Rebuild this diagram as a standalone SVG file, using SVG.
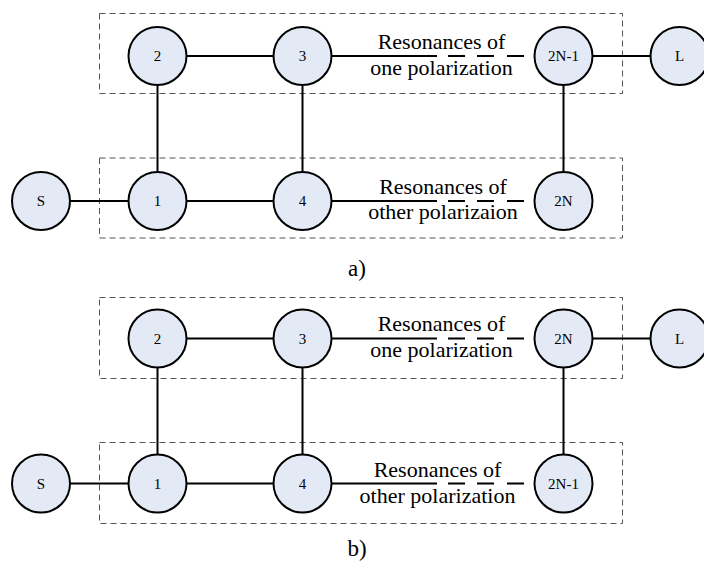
<svg xmlns="http://www.w3.org/2000/svg" width="704" height="565" viewBox="0 0 704 565">
<style>
.box{fill:none;stroke:#555;stroke-width:1;stroke-dasharray:6 4}
.node circle{fill:#e3eaf6;stroke:#000;stroke-width:2}
.node text{font-size:15px;text-anchor:middle;fill:#000}
.edge{stroke:#000;stroke-width:2;fill:none}
.lbl{font-size:22px;text-anchor:middle;fill:#000}
.cap{font-size:23px;text-anchor:middle;fill:#000}
</style>
<rect width="704" height="565" fill="#fff"/>
<g id="groups">
<rect class="box" x="99.5" y="13.5" width="523" height="80"/>
<rect class="box" x="99.5" y="158" width="523" height="80"/>
<rect class="box" x="99.5" y="297.5" width="523" height="81"/>
<rect class="box" x="99.5" y="442.5" width="523" height="81"/>
</g>
<g id="connectors">
<path class="edge" d="M186.5 56H273.5M157.5 85V172M302.5 85V172M592.5 56H650.5M563.5 85V172M70 201H128.5M186.5 201H273.5"/>
<path class="edge" d="M331.5 56H437M448 56H465M477 56H494M507 56H524"/>
<path class="edge" d="M331.5 201H437M448 201H465M477 201H494M507 201H524"/>
<path class="edge" d="M186.5 338.5H273.5M157.5 367.5V454.5M302.5 367.5V454.5M592.5 338.5H650.5M563.5 367.5V454.5M70 483.5H128.5M186.5 483.5H273.5"/>
<path class="edge" d="M331.5 338.5H437M448 338.5H465M477 338.5H494M507 338.5H524"/>
<path class="edge" d="M331.5 483.5H437M448 483.5H465M477 483.5H494M507 483.5H524"/>
</g>
<g id="labels" font-family="'Liberation Serif', 'Times New Roman', 'DejaVu Serif', serif">
<text class="lbl" x="441.5" y="49">Resonances of</text>
<text class="lbl" x="441.5" y="75">one polarization</text>
<text class="lbl" x="443" y="194">Resonances of</text>
<text class="lbl" x="443" y="219">other polarizaion</text>
<text class="cap" x="357" y="276">a)</text>
<text class="lbl" x="441.5" y="331">Resonances of</text>
<text class="lbl" x="441.5" y="357">one polarization</text>
<text class="lbl" x="437.5" y="477">Resonances of</text>
<text class="lbl" x="437.5" y="503">other polarization</text>
<text class="cap" x="357" y="556">b)</text>
</g>
<g id="nodes" font-family="'Liberation Serif', 'Times New Roman', 'DejaVu Serif', serif">
<g id="a-n2" class="node"><circle cx="157.5" cy="56" r="29"/><text x="157.5" y="61">2</text></g>
<g id="a-n3" class="node"><circle cx="302.5" cy="56" r="29"/><text x="302.5" y="61">3</text></g>
<g id="a-n2N-1" class="node"><circle cx="563.5" cy="56" r="29"/><text x="563.5" y="61">2N-1</text></g>
<g id="a-L" class="node"><circle cx="679.5" cy="56" r="29"/><text x="679.5" y="61">L</text></g>
<g id="a-S" class="node"><circle cx="41" cy="201" r="29"/><text x="41" y="206">S</text></g>
<g id="a-n1" class="node"><circle cx="157.5" cy="201" r="29"/><text x="157.5" y="206">1</text></g>
<g id="a-n4" class="node"><circle cx="302.5" cy="201" r="29"/><text x="302.5" y="206">4</text></g>
<g id="a-n2N" class="node"><circle cx="563.5" cy="201" r="29"/><text x="563.5" y="206">2N</text></g>
<g id="b-n2" class="node"><circle cx="157.5" cy="338.5" r="29"/><text x="157.5" y="343.5">2</text></g>
<g id="b-n3" class="node"><circle cx="302.5" cy="338.5" r="29"/><text x="302.5" y="343.5">3</text></g>
<g id="b-n2N" class="node"><circle cx="563.5" cy="338.5" r="29"/><text x="563.5" y="343.5">2N</text></g>
<g id="b-L" class="node"><circle cx="679.5" cy="338.5" r="29"/><text x="679.5" y="343.5">L</text></g>
<g id="b-S" class="node"><circle cx="41" cy="483.5" r="29"/><text x="41" y="488.5">S</text></g>
<g id="b-n1" class="node"><circle cx="157.5" cy="483.5" r="29"/><text x="157.5" y="488.5">1</text></g>
<g id="b-n4" class="node"><circle cx="302.5" cy="483.5" r="29"/><text x="302.5" y="488.5">4</text></g>
<g id="b-n2N-1" class="node"><circle cx="563.5" cy="483.5" r="29"/><text x="563.5" y="488.5">2N-1</text></g>
</g>
</svg>
